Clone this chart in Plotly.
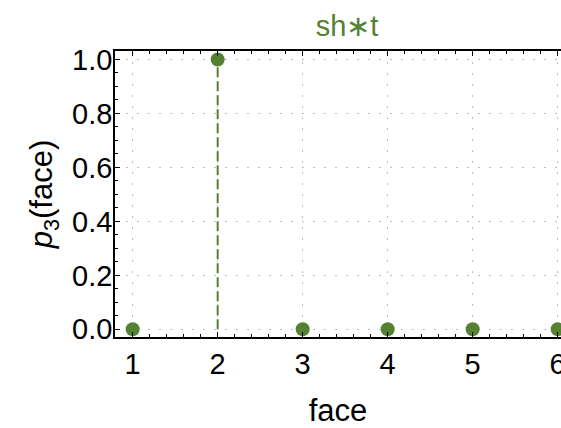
import plotly.graph_objects as go

# Probability mass for each die face
faces = [1, 2, 3, 4, 5, 6]
probs = [0.0, 1.0, 0.0, 0.0, 0.0, 0.0]
x_ticks = [1, 2, 3, 4, 5, 6]
y_ticks = [0.0, 0.2, 0.4, 0.6, 0.8, 1.0]
y_tick_text = ["0.0", "0.2", "0.4", "0.6", "0.8", "1.0"]

GREEN = "rgb(84,129,50)"
FONT = "Liberation Sans, Arial, Helvetica, sans-serif"
GRID = dict(showgrid=True, gridcolor="rgb(190,190,190)", griddash="2px,9px", gridwidth=1)

fig = go.Figure()

# dashed stems for the nonzero probabilities
for f, p in zip(faces, probs):
    if p > 0:
        fig.add_trace(go.Scatter(
            x=[f, f], y=[0, p], mode="lines",
            line=dict(color=GREEN, width=2, dash="10px,4px"),
            hoverinfo="skip", showlegend=False,
        ))

fig.add_trace(go.Scatter(
    x=faces, y=probs, mode="markers",
    marker=dict(color=GREEN, size=14, line=dict(width=0)),
    showlegend=False, cliponaxis=False,
))

fig.update_layout(
    width=561, height=428,
    margin=dict(l=115, r=0, t=51, b=91),
    paper_bgcolor="white", plot_bgcolor="white",
    font=dict(family=FONT, color="black", size=29),
    title=dict(text="sh\u2217t", font=dict(color=GREEN, size=29),
               x=347 / 561, xanchor="center", y=1 - 26 / 428, yanchor="middle"),
)

fig.update_xaxes(
    range=[0.792, 6.039], automargin=False,
    tickvals=x_ticks, ticktext=[str(v) for v in x_ticks],
    ticks="inside", ticklen=5, tickwidth=1, tickcolor="black",
    showline=True, linecolor="black", linewidth=1.5, mirror="ticks",
    minor=dict(dtick=0.2, tick0=0, ticks="inside", ticklen=3, tickcolor="black",
               showgrid=False),
    zeroline=False,
    ticklabelstandoff=0, ticklabeloverflow="allow",
    title=dict(text="face", font=dict(size=31), standoff=23),
    **GRID,
)

fig.update_yaxes(
    range=[-0.0285, 1.0315], automargin=False,
    tickvals=y_ticks, ticktext=y_tick_text,
    ticks="inside", ticklen=5, tickwidth=1, tickcolor="black",
    showline=True, linecolor="black", linewidth=1.5, mirror=False,
    minor=dict(dtick=0.05, tick0=0, ticks="inside", ticklen=3, tickcolor="black",
               showgrid=False),
    zeroline=False,
    ticklabelstandoff=-5,
    title=dict(text="<i>p</i><sub>3</sub>(face)", font=dict(size=31), standoff=10),
    **GRID,
)

fig.write_html("out.html")
